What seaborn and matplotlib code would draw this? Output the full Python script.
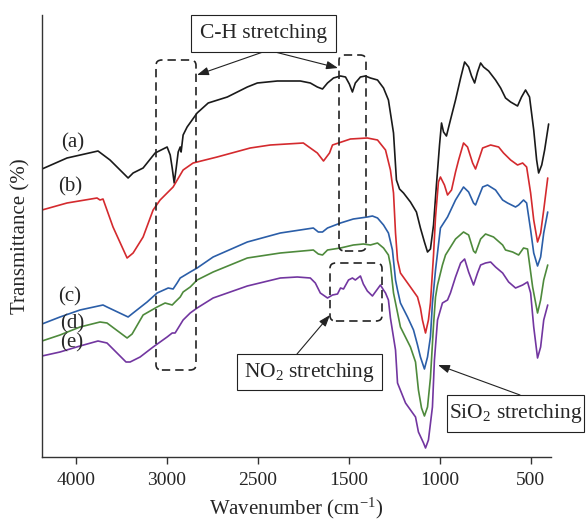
import numpy as np
import pandas as pd
import matplotlib
matplotlib.use("Agg")
import matplotlib.pyplot as plt
from matplotlib.patches import FancyBboxPatch, Rectangle
import seaborn as sns

# FTIR spectra, wavenumber (cm-1) vs transmittance (arbitrary units)
wn_a = [4374, 4099, 3758, 3626, 3427, 3372, 3262, 3130, 2999, 2982, 2971, 2960, 2949, 2938, 2927, 2922,
        2911, 2889, 2834, 2773, 2668, 2558, 2503, 2286, 2033, 1923, 1846, 1789, 1734, 1668, 1591, 1536,
        1497, 1480, 1464, 1436, 1409, 1381, 1342, 1309, 1282, 1254, 1238, 1221, 1199, 1161, 1128, 1106,
        1084, 1067, 1051, 1034, 1018, 1001, 990, 979, 963, 941, 913, 885, 863, 841, 825, 808, 792, 775,
        759, 731, 693, 665, 638, 610, 572, 550, 528, 506, 483, 467, 456, 439, 423, 401]
t_a = [288, 299, 306, 297, 279, 284, 289, 304, 310, 302, 289, 274, 289, 305, 310, 305,
       322, 330, 344, 354, 360, 370, 374, 376, 376, 374, 370, 368, 374, 379, 381, 380,
       373, 365, 374, 380, 381, 379, 377, 369, 357, 324, 277, 268, 264, 255, 245, 229,
       215, 205, 208, 232, 272, 312, 334, 325, 321, 337, 357, 379, 395, 390, 381, 374, 385, 394,
       390, 386, 377, 369, 359, 355, 351, 360, 367, 360, 327, 297, 284, 292, 307, 333]

wn_b = [4374, 4099, 3769, 3736, 3703, 3593, 3438, 3372, 3262, 3152, 3075, 2966, 2911, 2856, 2724, 2542,
        2363, 2000, 1846, 1778, 1712, 1679, 1491, 1398, 1342, 1298, 1271, 1254, 1243, 1232, 1216, 1161,
        1122, 1106, 1095, 1078, 1062, 1051, 1034, 1023, 1007, 996, 974, 957, 935, 913, 896, 869, 847,
        819, 803, 786, 764, 720, 676, 649, 610, 572, 544, 522, 500, 483, 462, 445, 428, 406]
t_b = [247, 254, 259, 257, 258, 230, 199, 204, 220, 247, 257, 270, 287, 294, 300, 309,
       312, 314, 304, 296, 304, 312, 318, 319, 317, 307, 287, 264, 224, 197, 184, 170,
       160, 149, 137, 124, 137, 154, 202, 240, 275, 280, 272, 262, 267, 285, 297, 314, 310,
       294, 288, 297, 309, 312, 310, 304, 297, 292, 294, 290, 264, 237, 215, 224, 247, 279]

wn_c = [4374, 4176, 3956, 3703, 3659, 3427, 3372, 3218, 3108, 2993, 2966, 2944, 2927, 2872, 2834, 2746,
        2558, 2253, 1890, 1835, 1789, 1734, 1591, 1475, 1398, 1370, 1342, 1309, 1282, 1260, 1243, 1232,
        1216, 1177, 1144, 1122, 1106, 1084, 1067, 1051, 1040, 1023, 1007, 996, 957, 913, 869, 841, 814,
        803, 786, 764, 737, 693, 654, 627, 583, 566, 539, 522, 500, 483, 462, 445, 428, 406]
t_c = [133, 140, 147, 152, 150, 140, 144, 155, 164, 169, 168, 174, 179, 185, 189, 200,
       215, 224, 229, 225, 225, 229, 234, 238, 240, 241, 239, 232, 224, 207, 177, 167,
       154, 140, 127, 112, 100, 88, 100, 120, 154, 187, 212, 229, 240, 257, 270, 265, 254,
       252, 260, 270, 272, 267, 257, 254, 250, 252, 257, 254, 227, 204, 191, 200, 224, 245]

wn_d = [4374, 4176, 3956, 3736, 3659, 3438, 3383, 3262, 3108, 3020, 2971, 2955, 2927, 2911, 2872, 2834,
        2746, 2558, 2253, 1890, 1835, 1789, 1734, 1591, 1475, 1420, 1381, 1342, 1309, 1282, 1271, 1254,
        1216, 1161, 1133, 1117, 1100, 1084, 1067, 1051, 1034, 1023, 1012, 985, 968, 913, 869, 841, 814,
        803, 775, 748, 704, 654, 638, 599, 566, 539, 517, 489, 462, 445, 428, 406]
t_d = [116, 122, 130, 135, 134, 119, 123, 142, 150, 154, 152, 155, 160, 165, 170, 177,
       185, 199, 204, 207, 203, 202, 207, 209, 212, 213, 212, 214, 209, 202, 192, 164,
       130, 110, 95, 67, 49, 41, 50, 79, 132, 160, 172, 192, 202, 218, 225, 222, 206,
       204, 218, 223, 220, 212, 207, 205, 202, 209, 208, 170, 144, 157, 177, 192]

wn_e = [4374, 4176, 3956, 3758, 3659, 3450, 3405, 3295, 3152, 2999, 2971, 2955, 2938, 2911, 2872, 2834,
        2746, 2558, 2253, 2066, 1923, 1868, 1813, 1734, 1679, 1624, 1591, 1558, 1503, 1480, 1464, 1436,
        1420, 1398, 1370, 1354, 1326, 1309, 1298, 1282, 1271, 1243, 1232, 1188, 1133, 1117, 1089, 1078,
        1062, 1040, 1029, 1012, 985, 957, 941, 913, 885, 863, 841, 814, 792, 775, 748, 720, 693, 654,
        621, 583, 544, 517, 500, 483, 462, 445, 428, 406]
t_e = [101, 105, 111, 116, 114, 95, 95, 100, 110, 120, 124, 124, 129, 137, 144, 149,
       159, 171, 179, 180, 179, 174, 164, 159, 162, 163, 169, 168, 177, 179, 177, 181,
       173, 166, 161, 165, 172, 167, 164, 157, 139, 107, 74, 54, 40, 25, 14, 9,
       17, 50, 97, 137, 154, 157, 164, 180, 194, 198, 185, 172, 184, 192, 194, 195, 190, 184,
       175, 169, 172, 175, 164, 130, 99, 110, 137, 152]

samples = ["a", "b", "c", "d", "e"]
colors = {"a": "#1a1a1a", "b": "#d42a2e", "c": "#2b5ea8", "d": "#4e8a3c", "e": "#7236a0"}

# tick marks are evenly spaced but the labels skip 3500 and 2000
tick_wn = [4000, 3000, 2500, 1500, 1000, 500]

frames = []
for s, wn, t in zip(samples, [wn_a, wn_b, wn_c, wn_d, wn_e], [t_a, t_b, t_c, t_d, t_e]):
    frames.append(pd.DataFrame({"wn": wn, "T": t, "sample": s}))
df = pd.concat(frames, ignore_index=True)

# piecewise-linear axis through the tick positions
brk_wn = np.array([0, 500, 1000, 1500, 2500, 3000, 4000, 5000], dtype=float)
brk_pos = np.array([-1, 0, 1, 2, 3, 4, 5, 6], dtype=float)


def fwd(x):
    return np.interp(x, brk_wn, brk_pos)


def inv(p):
    return np.interp(p, brk_pos, brk_wn)


sns.set_style("white")
plt.rcParams["font.family"] = ["Liberation Serif", "DejaVu Serif"]
plt.rcParams["mathtext.fontset"] = "custom"
plt.rcParams["mathtext.rm"] = "Liberation Serif"
plt.rcParams["mathtext.it"] = "Liberation Serif:italic"

W, H = 588, 524
fig, ax = plt.subplots(figsize=(W / 100, H / 100), dpi=100)
fig.subplots_adjust(left=42 / W, right=551 / W, bottom=1 - 457 / H, top=1 - 15 / H)

sns.lineplot(data=df, x="wn", y="T", hue="sample", palette=colors, estimator=None,
             sort=False, linewidth=1.2, legend=False, ax=ax)

ax.set_xscale("function", functions=(fwd, inv))
ax.set_xlim(4374, 388)
ax.set_ylim(0, 442)
ax.set_xticks(tick_wn)
ax.set_xticklabels([str(v) for v in tick_wn])
ax.set_yticks([])
ax.tick_params(axis="x", direction="out", length=5, width=1, color="#333333",
               labelsize=14, pad=6, bottom=True)
for side in ["top", "right"]:
    ax.spines[side].set_visible(False)
for side in ["left", "bottom"]:
    ax.spines[side].set_color("#333333")
    ax.spines[side].set_linewidth(1.0)
ax.set_xlabel("Wavenumber (cm$^{-1}$)", fontsize=15, labelpad=5)
ax.set_ylabel("Transmittance (%)", fontsize=15, labelpad=8)


def fp(x, y):
    return (x / W, 1 - y / H)


# dashed rounded regions
for x0, y0, x1, y1 in [(156, 60, 196, 370), (339, 55, 366, 251), (330, 263, 382, 321)]:
    fig.add_artist(FancyBboxPatch(fp(x0, y1), (x1 - x0) / W, (y1 - y0) / H,
                                  boxstyle="round,pad=0,rounding_size=0.01",
                                  transform=fig.transFigure, fill=False,
                                  ls=(0, (5, 3)), lw=1.2, ec="#222222"))

# labelled boxes
boxes = [(191, 15, 336, 52, "C-H stretching"),
         (237, 354, 382, 390, "NO$_2$ stretching"),
         (447, 395, 584, 432, "SiO$_2$ stretching")]
for x0, y0, x1, y1, s in boxes:
    fig.add_artist(Rectangle(fp(x0, y1), (x1 - x0) / W, (y1 - y0) / H,
                             transform=fig.transFigure, fc="white", ec="#222222", lw=0.8))
    fig.text((x0 + x1) / 2 / W, 1 - (y0 + y1) / 2 / H, s, ha="center", va="center", fontsize=15.5)

arrows = [((263, 52), (197, 75)), ((275, 52), (338, 68)),
          ((297, 354), (330, 315)), ((520, 395), (438, 365))]
for start, end in arrows:
    ax.annotate("", xy=fp(*end), xytext=fp(*start), xycoords="figure fraction",
                textcoords="figure fraction", annotation_clip=False,
                arrowprops=dict(arrowstyle="-|>,head_length=0.7,head_width=0.25",
                                lw=0.8, color="#222222", shrinkA=0, shrinkB=0))

# curve labels
for s, (x, y) in zip(samples, [(73, 143), (70, 187), (70, 297), (72, 324), (72, 343)]):
    fig.text(x / W, 1 - y / H, f"({s})", ha="center", va="center", fontsize=15)

fig.savefig("out.png", dpi=100)
